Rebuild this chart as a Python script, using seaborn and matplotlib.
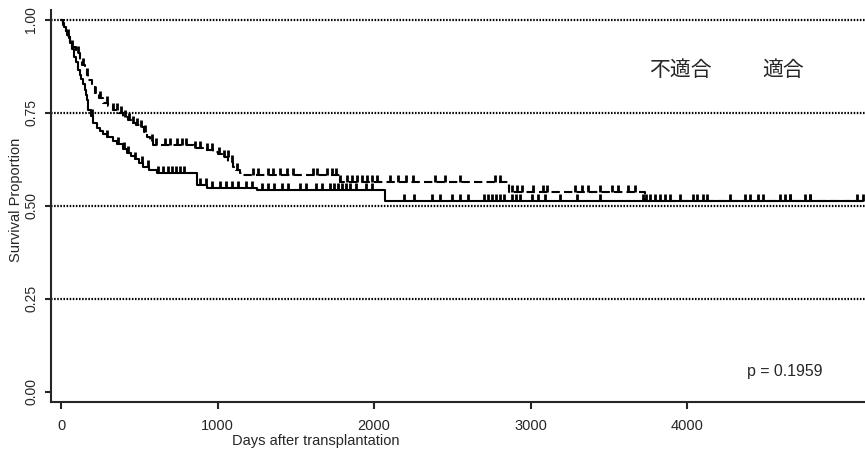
import numpy as np
import pandas as pd
import seaborn as sns
import matplotlib.pyplot as plt
from matplotlib.path import Path

# Kaplan-Meier steps
# solid line (lower curve)
unfit_time = [0, 10, 20, 30, 40, 50, 57, 70, 80, 95, 109, 120, 130, 142, 153, 160, 165,
              173, 190, 204, 230, 250, 270, 294, 330, 360, 395, 422, 450, 470, 500, 524,
              560, 613, 869, 933, 1250, 2070, 5125]
unfit_surv = [1.0, 0.99, 0.98, 0.97, 0.96, 0.95, 0.938, 0.92, 0.90, 0.885, 0.866, 0.852,
              0.84, 0.826, 0.812, 0.798, 0.785, 0.758, 0.74, 0.723, 0.71, 0.70, 0.692,
              0.685, 0.675, 0.665, 0.652, 0.642, 0.633, 0.625, 0.615, 0.605, 0.597, 0.589,
              0.556, 0.548, 0.543, 0.512, 0.512]
unfit_censor = [198, 294, 364, 403, 428, 473, 518, 556, 620, 652, 684, 709, 735, 760, 786,
                888, 927, 965, 1016, 1054, 1093, 1131, 1182, 1220, 1284, 1323, 1361, 1412,
                1451, 1527, 1566, 1629, 1668, 1719, 1745, 1770, 1796, 1821, 1847, 1885, 1949,
                1987, 2192, 2256, 2371, 2422, 2499, 2550, 2601, 2703, 2729, 2754, 2780, 2805,
                2831, 2882, 2907, 2933, 3010, 3048, 3093, 3189, 3297, 3444, 3719, 3738, 3764,
                3796, 3828, 3860, 3891, 3955, 4038, 4064, 4102, 4128, 4275, 4371, 4403, 4454,
                4486, 4594, 4626, 4658, 4754, 4786, 5086]

# dashed line (upper curve)
fit_time = [0, 15, 30, 45, 60, 70, 95, 121, 137, 153, 163, 173, 195, 217, 240, 268, 300,
            332, 365, 396, 430, 460, 480, 505, 530, 550, 570, 588, 850, 910, 971, 1000,
            1035, 1070, 1099, 1120, 1144, 1165, 1780, 2860, 3730, 5125]
fit_surv = [1.0, 0.985, 0.97, 0.955, 0.94, 0.927, 0.91, 0.892, 0.879, 0.866, 0.852, 0.839,
            0.82, 0.804, 0.79, 0.777, 0.767, 0.758, 0.748, 0.739, 0.731, 0.723, 0.718,
            0.712, 0.698, 0.685, 0.674, 0.664, 0.655, 0.65, 0.645, 0.638, 0.632, 0.618,
            0.605, 0.597, 0.589, 0.583, 0.565, 0.538, 0.514, 0.514]
fit_censor = [45, 70, 109, 141, 166, 217, 249, 294, 332, 358, 383, 409, 435, 460, 486, 511,
              537, 581, 607, 665, 697, 741, 773, 799, 856, 888, 933, 965, 1010, 1042, 1067,
              1093, 1125, 1227, 1259, 1323, 1355, 1399, 1444, 1483, 1610, 1636, 1700, 1732,
              1757, 1783, 1828, 1860, 1892, 1923, 1955, 1987, 2019, 2102, 2153, 2205, 2249,
              2390, 2454, 2550, 2773, 2805, 2882, 2914, 2946, 3016, 3080, 3106, 3285, 3329,
              3368, 3444, 3521, 3559, 3623, 3668, 4658, 4786, 5125]

group_labels = ["不適合", "適合"]
p_text = "p = 0.1959"
y_ticks = [0.0, 0.25, 0.5, 0.75, 1.0]
x_ticks = [0, 1000, 2000, 3000, 4000]


def surv_at(times, surv, t):
    idx = np.searchsorted(np.array(times), np.array(t), side="right") - 1
    return np.array(surv)[idx]


sns.set_style("ticks")
plt.rcParams["font.family"] = ["Liberation Sans", "DejaVu Sans"]

fig = plt.figure(figsize=(8.65, 4.53), dpi=100)
ax = fig.add_axes([51 / 865, 51 / 453, 1 - 51 / 865, 392 / 453])

# reference lines
for yv in [0.25, 0.5, 0.75, 1.0]:
    ax.axhline(yv, color="black", lw=1.6, linestyle=(0, (0.7, 0.7)), zorder=1)

unfit = pd.DataFrame({"time": unfit_time, "surv": unfit_surv})
fit = pd.DataFrame({"time": fit_time, "surv": fit_surv})

sns.lineplot(data=unfit, x="time", y="surv", ax=ax, color="black", lw=1.5,
             drawstyle="steps-post", estimator=None, sort=False)
sns.lineplot(data=fit, x="time", y="surv", ax=ax, color="black", lw=1.5,
             drawstyle="steps-post", estimator=None, sort=False, dashes=False,
             linestyle=(0, (4, 2)))

tick = Path([(0, 0), (0, 1)], [Path.MOVETO, Path.LINETO])
sns.scatterplot(x=unfit_censor, y=surv_at(unfit_time, unfit_surv, unfit_censor), ax=ax,
                marker=tick, s=100, color="black", edgecolor="black", linewidth=2)
sns.scatterplot(x=fit_censor, y=surv_at(fit_time, fit_surv, fit_censor), ax=ax,
                marker=tick, s=100, color="black", edgecolor="black", linewidth=2)

ax.set_xlim(-64, 5137)
ax.set_ylim(-0.027, 1.026)
ax.set_xticks(x_ticks)
ax.set_yticks(y_ticks)
ax.set_yticklabels([f"{v:.2f}" for v in y_ticks], rotation=90, va="center")
ax.tick_params(axis="x", length=5, width=1.5, pad=7, labelsize=10.5)
ax.tick_params(axis="y", length=4, width=1.5, pad=5, labelsize=10)
for s in ["top", "right"]:
    ax.spines[s].set_visible(False)
for s in ["left", "bottom"]:
    ax.spines[s].set_linewidth(1.5)

ax.set_xlabel("Days after transplantation", fontsize=10.5)
ax.set_ylabel("Survival Proportion", fontsize=10.5)
ax.xaxis.set_label_coords(0.3256, -0.1)
ax.xaxis.label.set_va("center")
ax.yaxis.set_label_coords(-0.043, 0.515)
ax.yaxis.label.set_va("center")

ax.text(3955, 0.866, group_labels[0], ha="center", va="center", fontsize=15,
        family=["Noto Sans CJK JP", "DejaVu Sans"])
ax.text(4613, 0.866, group_labels[1], ha="center", va="center", fontsize=15,
        family=["Noto Sans CJK JP", "DejaVu Sans"])
ax.text(4626, 0.054, p_text, ha="center", va="center", fontsize=11.4)

fig.savefig("out.png", dpi=100)
